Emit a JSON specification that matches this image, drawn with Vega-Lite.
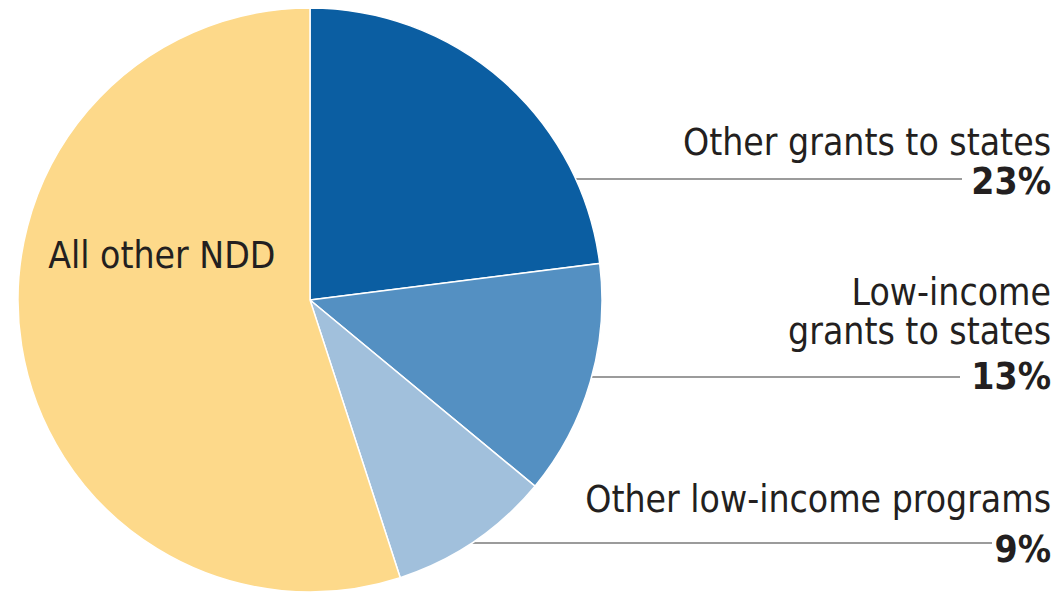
{
  "$schema": "https://vega.github.io/schema/vega-lite/v6.json",
  "width": 1058,
  "height": 592,
  "autosize": {"type": "none"},
  "padding": 0,
  "background": "white",
  "config": {"view": {"stroke": null}, "font": "DejaVu Sans Condensed, Roboto Condensed, Liberation Sans Narrow, sans-serif"},
  "datasets": {
    "shares": [
      {"category": "Other grants to states", "label": "Other grants to states", "share": 0.23, "rank": 1},
      {"category": "Low-income grants to states", "label": "Low-income\ngrants to states", "share": 0.13, "rank": 2},
      {"category": "Other low-income programs", "label": "Other low-income programs", "share": 0.09, "rank": 3},
      {"category": "All other NDD", "label": "All other NDD", "share": 0.55, "rank": 4}
    ]
  },
  "data": {"name": "shares"},
  "layer": [
    {
      "transform": [{"filter": "datum.category != 'All other NDD'"}],
      "mark": {"type": "rule", "color": "#7a7a7a", "strokeWidth": 1.5},
      "encoding": {
        "x": {"field": "share", "type": "quantitative", "scale": {"domain": [0.09, 0.13, 0.23], "range": [992, 960, 962]}, "axis": null},
        "x2": {"value": 310},
        "y": {"field": "share", "type": "quantitative", "scale": {"domain": [0.09, 0.13, 0.23], "range": [543, 377, 179]}, "axis": null}
      }
    },
    {
      "mark": {"type": "arc", "x": 310, "y": 300, "outerRadius": 292, "stroke": "white", "strokeWidth": 1.5},
      "encoding": {
        "theta": {"field": "share", "type": "quantitative", "stack": true},
        "order": {"field": "rank", "type": "quantitative"},
        "color": {
          "field": "category", "type": "nominal", "legend": null,
          "scale": {
            "domain": ["Other grants to states", "Low-income grants to states", "Other low-income programs", "All other NDD"],
            "range": ["#0B5EA2", "#5490C2", "#A1C0DC", "#FDD98A"]
          }
        }
      }
    },
    {
      "mark": {"type": "text", "x": 310, "y": 300, "radius": 150, "dy": -66, "fontSize": 37, "color": "#231f20", "align": "center", "baseline": "middle"},
      "encoding": {
        "theta": {"field": "share", "type": "quantitative", "stack": true},
        "order": {"field": "rank", "type": "quantitative"},
        "text": {"condition": {"test": "datum.category == 'All other NDD'", "field": "label"}, "value": ""}
      }
    },
    {
      "transform": [{"filter": "datum.category != 'All other NDD'"}],
      "mark": {"type": "text", "x": 1051, "align": "right", "baseline": "alphabetic", "fontSize": 37, "lineHeight": 39, "lineBreak": "\n", "color": "#231f20"},
      "encoding": {
        "y": {"field": "share", "type": "quantitative", "scale": {"domain": [0.09, 0.13, 0.23], "range": [512, 305, 155]}, "axis": null},
        "text": {"field": "label", "type": "nominal"}
      }
    },
    {
      "transform": [{"filter": "datum.category != 'All other NDD'"}],
      "mark": {"type": "text", "x": 1051, "align": "right", "baseline": "alphabetic", "fontSize": 37, "fontWeight": "bold", "color": "#231f20"},
      "encoding": {
        "y": {"field": "share", "type": "quantitative", "scale": {"domain": [0.09, 0.13, 0.23], "range": [562, 389, 194]}, "axis": null},
        "text": {"field": "share", "type": "quantitative", "format": ".0%"}
      }
    }
  ],
  "resolve": {"scale": {"x": "independent", "y": "independent"}}
}
